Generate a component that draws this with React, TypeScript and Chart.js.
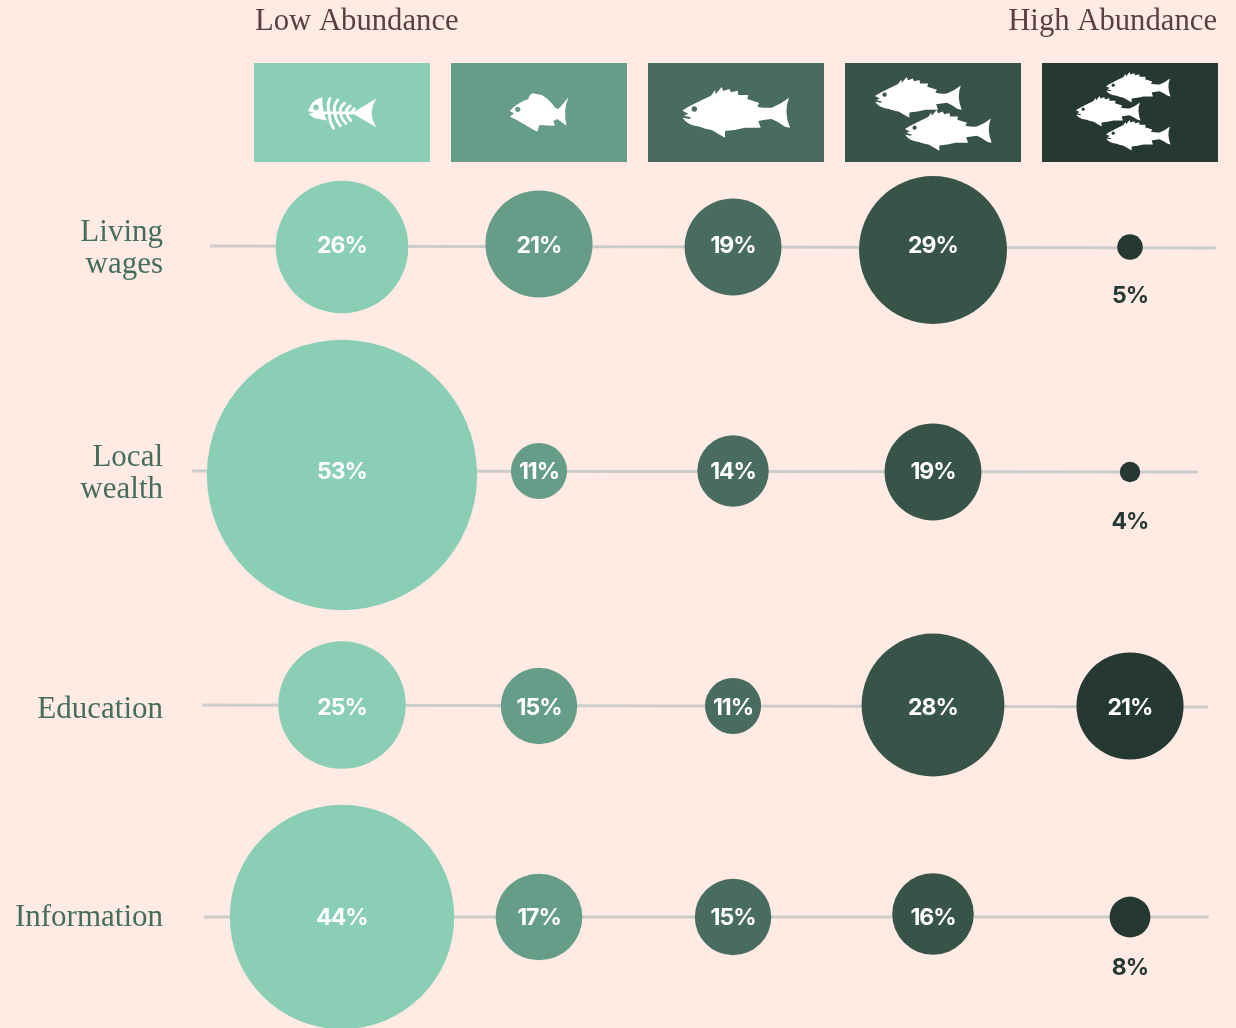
import React, { useEffect, useRef } from "react";
import { Chart, registerables } from "chart.js";

Chart.register(...registerables);

const rowLabels = [["Living", "wages"], ["Local", "wealth"], ["Education"], ["Information"]];
const leftHeader = "Low Abundance";
const rightHeader = "High Abundance";

// share of respondents per abundance level, low to high
const livingWages = [26, 21, 19, 29, 5];
const localWealth = [53, 11, 14, 19, 4];
const education = [25, 15, 11, 28, 21];
const information = [44, 17, 15, 16, 8];
const rows = [livingWages, localWealth, education, information];

const columnColors = ["#8ACEB6", "#669D88", "#486C5F", "#385347", "#253832"];
const BG = "#FFEBE4";

// row positions on the vertical axis, and the small hand-placed drift of each bubble
const rowAxis = [2.45, 4.71, 7.07, 9.17];
const bubbleColumns = [0, 1, 1.985, 3, 4];
const bubbleDrift = [
  [0.02, -0.01, 0.02, 0.05, 0.02],
  [0.04, 0, 0, 0.01, 0.01],
  [-0.02, -0.01, -0.01, -0.02, -0.01],
  [0, 0, 0, -0.03, 0],
];
const lineSpan = [
  [-0.67, 4.435, 2.46, 2.48],
  [-0.76, 4.345, 4.71, 4.72],
  [-0.71, 4.395, 7.05, 7.07],
  [-0.7, 4.4, 9.17, 9.17],
];
const RADIUS_PER_PERCENT = 2.55;

const bodyPath = new Path2D(
  "M37 107 Q52 96 70 88 Q98 74 120 64 L125 60 L135 45 L137 58 L155 36 L160 48 L178 42 L183 52 L203 47 L205 60 L235 60 L232 72 L268 84 L262 95 Q285 100 305 98 Q335 86 357 68 Q340 110 360 158 L345 155 Q325 140 305 132 Q285 134 265 138 L272 158 L225 158 Q195 166 165 168 L165 188 L125 165 Q100 160 90 155 Q65 152 55 145 Q44 138 38 128 L60 132 L62 127 L42 122 L55 116 Z"
);
const chubbyPath = new Path2D(
  "M29 78 Q50 54 85 42 Q88 28 98 25 Q115 28 125 30 Q150 44 165 68 L175 72 Q192 55 205 37 Q188 80 200 122 Q185 112 172 102 L160 108 L165 122 Q140 122 118 120 L112 140 Q95 132 85 125 Q65 114 50 105 L30 95 L42 85 Z"
);
const bonePath = new Path2D(
  "M72 25 Q45 32 38 50 Q34 58 30 65 L48 68 L33 72 Q40 80 50 85 L85 92 Q74 70 72 45 Z M165 66 Q195 48 228 28 Q200 70 228 112 Q195 92 165 75 Z"
);
const boneRibs = new Path2D(
  "M75 70 L175 70 M92 70 Q84 48 94 28 M108 70 Q102 50 116 33 M124 70 Q120 54 136 42 M142 70 Q138 60 152 50 M158 70 Q156 64 164 58 M92 70 Q92 95 104 114 M108 70 Q110 92 124 107 M124 70 Q126 88 140 100 M142 70 Q144 82 154 92"
);

function drawFish(ctx: CanvasRenderingContext2D, x: number, y: number, s: number, color: string) {
  ctx.save();
  ctx.translate(x, y);
  ctx.scale(s, s);
  ctx.fillStyle = "#FFFFFF";
  ctx.fill(bodyPath);
  ctx.fillStyle = color;
  ctx.beginPath();
  ctx.arc(73, 102, 8, 0, Math.PI * 2);
  ctx.fill();
  ctx.restore();
}

const decorPlugin = {
  id: "decor",
  beforeDatasetsDraw(chart: any) {
    const { ctx, scales } = chart;
    const xs = scales.x;
    const ys = scales.y;
    ctx.save();
    const top = ys.getPixelForValue(0.63);
    const height = ys.getPixelForValue(1.62) - top;
    columnColors.forEach((color, i) => {
      const left = xs.getPixelForValue(i) - 88;
      ctx.fillStyle = color;
      ctx.fillRect(left, top, 176, height);
      if (i === 0) {
        ctx.save();
        ctx.translate(left + 43.3, top + 25.6);
        ctx.scale(0.348, 0.348);
        ctx.fillStyle = "#FFFFFF";
        ctx.fill(bonePath);
        ctx.strokeStyle = "#FFFFFF";
        ctx.lineWidth = 8;
        ctx.lineCap = "round";
        ctx.stroke(boneRibs);
        ctx.fillStyle = color;
        ctx.beginPath();
        ctx.arc(54, 54, 8, 0, Math.PI * 2);
        ctx.fill();
        ctx.restore();
      } else if (i === 1) {
        ctx.save();
        ctx.translate(left + 49, top + 22);
        ctx.scale(1 / 3, 1 / 3);
        ctx.fillStyle = "#FFFFFF";
        ctx.fill(chubbyPath);
        ctx.fillStyle = color;
        ctx.beginPath();
        ctx.arc(53, 73, 8, 0, Math.PI * 2);
        ctx.fill();
        ctx.restore();
      } else if (i === 2) {
        drawFish(ctx, left + 22, top + 12, 1 / 3, color);
      } else if (i === 3) {
        drawFish(ctx, left + 20, top + 4.3, 0.2685, color);
        drawFish(ctx, left + 50, top + 37.3, 0.2685, color);
      } else {
        drawFish(ctx, left + 56.6, top + 1.8, 0.2, color);
        drawFish(ctx, left + 26.6, top + 25.8, 0.2, color);
        drawFish(ctx, left + 56.6, top + 49.8, 0.2, color);
      }
    });

    ctx.textBaseline = "alphabetic";
    ctx.font = '30.7px "Liberation Serif"';
    ctx.fillStyle = "#5A3F3E";
    ctx.textAlign = "left";
    ctx.fillText(leftHeader, xs.getPixelForValue(0) - 87, 30);
    ctx.textAlign = "right";
    ctx.fillText(rightHeader, xs.getPixelForValue(4) + 87, 30);

    ctx.font = '31px "Liberation Serif"';
    ctx.fillStyle = "#456D5E";
    const baselines = [[241, 273], [466, 498], [718], [926]];
    rowLabels.forEach((lines, r) => {
      lines.forEach((line, l) => ctx.fillText(line, 163, baselines[r][l]));
    });
    ctx.restore();
  },
  afterDatasetsDraw(chart: any) {
    const { ctx, scales } = chart;
    ctx.save();
    ctx.font = '700 23px "Inter"';
    (ctx as any).letterSpacing = "-1px";
    ctx.textAlign = "center";
    ctx.textBaseline = "middle";
    rows.forEach((values, r) => {
      values.forEach((v, c) => {
        const x = scales.x.getPixelForValue(bubbleColumns[c]);
        const y = scales.y.getPixelForValue(rowAxis[r]);
        const inside = v * RADIUS_PER_PERCENT >= 25;
        ctx.fillStyle = inside ? "#FFFFFF" : columnColors[4];
        ctx.fillText(`${v}%`, x, inside ? y + 1 : y + 51);
      });
    });
    ctx.restore();
  },
};

export default function App() {
  const ref = useRef<HTMLCanvasElement>(null);
  useEffect(() => {
    document.body.style.margin = "0";
    document.body.style.background = BG;
    const lineSets = lineSpan.map(([x0, x1, y0, y1]) => ({
      type: "line" as const,
      data: [{ x: x0, y: y0 }, { x: x1, y: y1 }],
      borderColor: "#CCCCCA",
      borderWidth: 3,
      pointRadius: 0,
      order: 2,
    }));
    const bubbleSets = rows.map((values, r) => ({
      type: "bubble" as const,
      data: values.map((v, c) => ({
        x: bubbleColumns[c],
        y: rowAxis[r] + bubbleDrift[r][c],
        r: v * RADIUS_PER_PERCENT,
      })),
      backgroundColor: columnColors,
      borderWidth: 0,
      order: 1,
    }));
    const chart = new Chart(ref.current!, {
      data: { datasets: [...lineSets, ...bubbleSets] as any },
      options: {
        animation: false,
        responsive: false,
        devicePixelRatio: 1,
        layout: { padding: 0, autoPadding: false },
        plugins: { legend: { display: false }, tooltip: { enabled: false } },
        scales: {
          x: { type: "linear", min: -342 / 197, max: 894 / 197, display: false },
          y: { type: "linear", min: 0, max: 10.28, reverse: true, display: false },
        },
      },
      plugins: [decorPlugin],
    } as any);
    return () => chart.destroy();
  }, []);
  return (
    <div style={{ position: "absolute", left: 0, top: 0, width: 1236, height: 1028, overflow: "hidden", background: BG }}>
      <canvas ref={ref} width={1236} height={1028} style={{ display: "block" }} />
    </div>
  );
}
